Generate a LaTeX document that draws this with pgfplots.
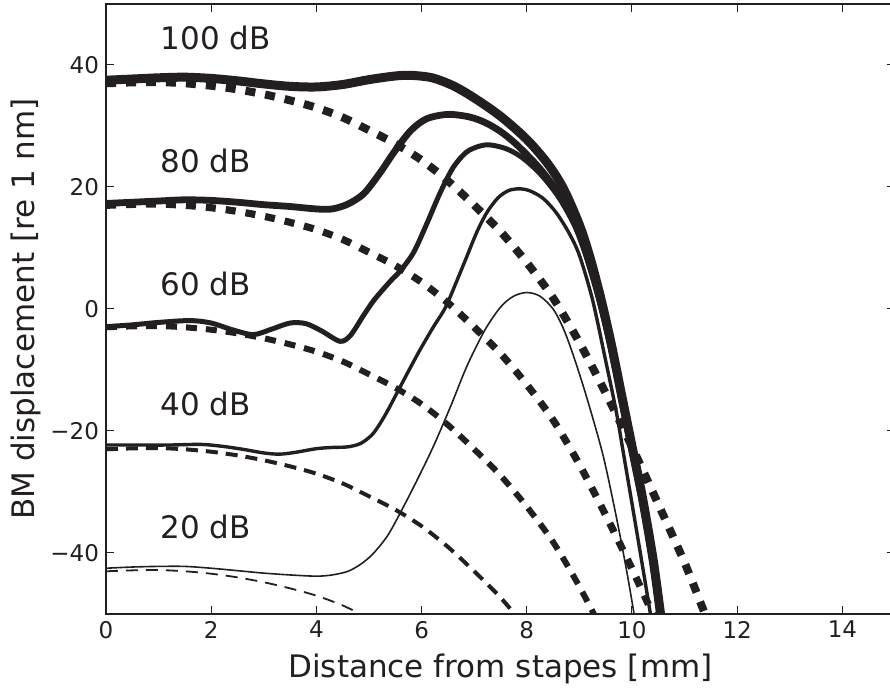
\documentclass[border=0pt]{standalone}
\usepackage{fontspec}
\setmainfont{DejaVu Sans}
\usepackage{pgfplots}
\pgfplotsset{compat=1.18}
\definecolor{ink}{RGB}{35,31,32}
\begin{document}
\begin{tikzpicture}
\begin{axis}[name=ax, at={(0,0)}, anchor=south west,
  scale only axis, width=394.5pt, height=305pt,
  xmin=0, xmax=15, ymin=-50, ymax=50,
  xtick={0,2,...,14}, ytick={-40,-20,0,20,40},
  yticklabels={−40,−20,0,20,40},
  tick align=inside, major tick length=4pt,
  every tick/.style={ink, line width=0.5pt},
  axis line style={ink, line width=0.8pt},
  tick label style={font=\fontsize{11.5}{13}\selectfont, text=ink},
  label style={font=\fontsize{15.5}{18}\selectfont, text=ink},
  xlabel={Distance from stapes [mm]},
  ylabel={BM displacement [re 1 nm]},
  ylabel style={yshift=-2pt},
  xlabel style={yshift=-1pt},
  /pgf/number format/assume math mode=true,
  every axis plot/.append style={ink, smooth, tension=0.5, line join=round},
]
% passive (dashed)
\addplot[line width=0.9pt, dash pattern=on 6pt off 4pt] coordinates {
(0,-43.0) (0.5,-42.85) (1,-42.8) (1.5,-43.0) (2,-43.4) (2.5,-44.0) (3,-44.8) (3.5,-45.8) (4,-47.0) (4.5,-48.6) (5,-50.7)};
\addplot[line width=2pt, dash pattern=on 6pt off 4pt] coordinates {
(0,-23.0) (0.5,-22.85) (1,-22.8) (1.5,-23.0) (2,-23.4) (2.5,-24.0) (3,-24.8) (3.5,-25.8) (4,-27.0) (4.5,-28.6) (5,-30.7) (5.5,-32.9) (6,-35.6) (6.5,-39.0) (7,-43.0) (7.5,-47.3) (8,-52.4)};
\addplot[line width=3pt, dash pattern=on 5.5pt off 4.5pt] coordinates {
(0,-3.0) (0.5,-2.85) (1,-2.8) (1.5,-3.0) (2,-3.4) (2.5,-4.0) (3,-4.8) (3.5,-5.8) (4,-7.0) (4.5,-8.6) (5,-10.7) (5.5,-12.9) (6,-15.6) (6.5,-19.0) (7,-23.0) (7.5,-27.3) (8,-32.4) (8.5,-38.2) (9,-45.5) (9.5,-53.8)};
\addplot[line width=3.6pt, dash pattern=on 5pt off 5pt] coordinates {
(0,17.0) (0.5,17.15) (1,17.2) (1.5,17.0) (2,16.6) (2.5,16.0) (3,15.2) (3.5,14.2) (4,13.0) (4.5,11.4) (5,9.3) (5.5,7.1) (6,4.4) (6.5,1.0) (7,-3.0) (7.5,-7.3) (8,-12.4) (8.5,-18.2) (9,-25.5) (9.5,-33.8) (10,-42.6) (10.5,-52.0)};
\addplot[line width=4pt, dash pattern=on 5pt off 5pt] coordinates {
(0,37.0) (0.5,37.15) (1,37.2) (1.5,37.0) (2,36.6) (2.5,36.0) (3,35.2) (3.5,34.2) (4,33.0) (4.5,31.4) (5,29.3) (5.5,27.1) (6,24.4) (6.5,21.0) (7,17.0) (7.5,12.7) (8,7.6) (8.5,1.8) (9,-5.5) (9.5,-13.8) (10,-22.6) (10.5,-32.0) (11,-41.6) (11.4,-50.3) (11.5,-52.5)};
% active (solid)
\addplot[line width=0.8pt] coordinates {
(0,-42.5) (0.5,-42.3) (1.0,-42.2) (1.5,-42.2) (2.0,-42.5) (2.5,-42.9) (3.0,-43.3) (3.5,-43.6) (4.0,-43.8) (4.3,-43.6) (4.6,-43.0) (4.85,-41.8) (5.08,-40.1) (5.35,-37.2) (5.59,-33.5) (5.9,-28.3) (6.22,-22.6) (6.55,-16.0) (6.86,-9.4) (7.2,-3.5) (7.5,0.3) (7.75,2.1) (8.0,2.7) (8.25,2.1) (8.5,0.0) (8.7,-3.3) (8.9,-8.0) (9.15,-14.8) (9.45,-24.0) (9.7,-34.0) (9.9,-43.0) (10.05,-50.5) (10.1,-53)};
\addplot[line width=1.7pt] coordinates {
(0,-22.3) (0.6,-22.3) (1.2,-22.3) (1.8,-22.2) (2.2,-22.5) (2.6,-23.0) (3.0,-23.6) (3.3,-23.8) (3.6,-23.5) (4.0,-22.9) (4.3,-22.7) (4.6,-22.6) (4.85,-22.0) (5.08,-20.4) (5.3,-17.5) (5.53,-13.8) (5.75,-10.2) (5.97,-6.7) (6.22,-3.0) (6.45,0.2) (6.65,4.2) (6.86,8.6) (7.05,12.6) (7.24,15.8) (7.45,18.2) (7.65,19.4) (7.85,19.7) (8.05,19.4) (8.3,18.2) (8.55,15.9) (8.8,12.5) (9.0,8.8) (9.25,1.5) (9.5,-8.5) (9.7,-16.8) (9.85,-24.3) (10.1,-37.0) (10.36,-50.5) (10.4,-53)};
\addplot[line width=2.5pt] coordinates {
(0,-2.9) (0.5,-2.6) (1.0,-2.2) (1.6,-1.9) (2.0,-2.3) (2.4,-3.4) (2.8,-4.2) (3.15,-3.3) (3.5,-2.3) (3.8,-2.4) (4.1,-3.6) (4.45,-5.3) (4.65,-4.3) (4.9,-1.0) (5.1,1.5) (5.4,4.5) (5.6,6.3) (5.85,9.3) (6.1,14.0) (6.35,19.0) (6.6,23.2) (6.85,25.7) (7.1,26.7) (7.3,26.9) (7.6,26.3) (7.9,24.9) (8.25,22.2) (8.6,18.4) (8.9,13.8) (9.1,9.3) (9.3,3.6) (9.5,-3.0) (9.7,-10.5) (9.9,-19.0) (10.1,-27.5) (10.3,-36.5) (10.53,-50.5) (10.6,-54)};
\addplot[line width=3.4pt] coordinates {
(0,17.3) (0.5,17.5) (1,17.7) (1.5,17.9) (2,17.8) (2.5,17.5) (3,17.1) (3.5,16.8) (4,16.4) (4.3,16.4) (4.6,17.2) (4.9,18.9) (5.2,22.2) (5.5,26.0) (5.8,29.3) (6.1,31.2) (6.5,31.9) (6.9,31.5) (7.2,30.6) (7.5,29.1) (7.8,27.0) (8.2,23.5) (8.5,20.2) (8.8,16.0) (9.0,12.6) (9.2,7.8) (9.4,1.4) (9.6,-6.2) (9.8,-14.8) (10.0,-23.3) (10.2,-31.8) (10.4,-41.8) (10.54,-50.5) (10.6,-54)};
\addplot[line width=4.5pt] coordinates {
(0,37.5) (0.5,37.7) (1,37.9) (1.5,38.0) (2,37.8) (2.5,37.4) (3,36.9) (3.5,36.5) (4,36.4) (4.5,36.8) (5,37.6) (5.5,38.2) (5.8,38.3) (6.2,37.9) (6.6,36.6) (7,34.6) (7.5,31.6) (8,27.8) (8.4,23.8) (8.7,19.7) (9.0,13.8) (9.2,8.5) (9.4,2.0) (9.6,-5.5) (9.8,-14.0) (10.0,-22.5) (10.2,-31.0) (10.4,-41.0) (10.55,-50.5) (10.6,-54)};
% labels
\node[anchor=base west, inner sep=0pt, font=\fontsize{15.5}{18}\selectfont, text=ink] at (axis cs:1.03,42.5) {100 dB};
\node[anchor=base west, inner sep=0pt, font=\fontsize{15.5}{18}\selectfont, text=ink] at (axis cs:1.03,22.4) {80 dB};
\node[anchor=base west, inner sep=0pt, font=\fontsize{15.5}{18}\selectfont, text=ink] at (axis cs:1.03,2.2) {60 dB};
\node[anchor=base west, inner sep=0pt, font=\fontsize{15.5}{18}\selectfont, text=ink] at (axis cs:1.03,-17.4) {40 dB};
\node[anchor=base west, inner sep=0pt, font=\fontsize{15.5}{18}\selectfont, text=ink] at (axis cs:1.03,-37.6) {20 dB};
\end{axis}
\pgfresetboundingbox
\path ([shift={(-53pt,-37pt)}]ax.south west) rectangle ([shift={(-2.5pt,2pt)}]ax.north east);
\end{tikzpicture}
\end{document}
